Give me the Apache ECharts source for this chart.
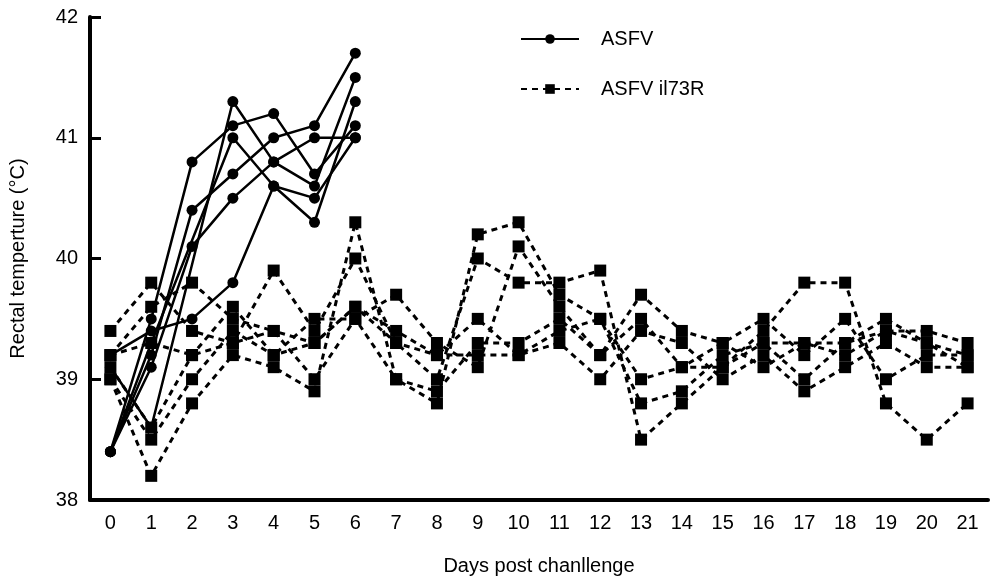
<!DOCTYPE html>
<html style="width:100%;height:100%">
<head>
    <meta charset="UTF-8">
    <title>Rectal temperature</title>
    <script type="text/javascript" src="https://cdn.jsdelivr.net/npm/echarts@6/dist/echarts.min.js"></script>
</head>
<body style="margin:0;width:100%;height:100%;overflow:hidden;background:#fff">
    <div id="main" style="width:1000px;height:588px"></div>

    <script type="text/javascript">
        var myChart = echarts.init(document.getElementById('main'));

        var days = ['0', '1', '2', '3', '4', '5', '6', '7', '8', '9', '10',
            '11', '12', '13', '14', '15', '16', '17', '18', '19', '20', '21'];
        var yTicks = [38, 39, 40, 41, 42];

        // ASFV (solid, circles) - days 0..6, null = no reading that day
        var asfv1 = [39.1, 38.6, null, 41.3, 40.8, 40.6, 41.5];
        var asfv2 = [39.2, 39.4, 39.5, 39.8, 40.6, 40.3, 41.3];
        var asfv3 = [38.4, 39.5, 40.8, 41.1, 41.2, 40.7, 41.1];
        var asfv4 = [38.4, 39.2, 40.4, 40.7, 41.0, 41.1, 41.7];
        var asfv5 = [38.4, 39.1, 40.1, 40.5, 40.8, 41.0, 41.0];
        var asfv6 = [38.4, 39.3, null, 41.0, 40.6, 40.5, 41.0];

        // ASFV il73R (dashed, squares) - days 0..21
        var mut1 = [39.4, 39.8, 39.4, 39.3, 39.9, 39.4, 40.0, 39.3, 39.0, 40.0, 39.8, 39.8, 39.9, 38.5, 38.8, 39.1, 39.4, 39.8, 39.8, 38.8, 38.5, 38.8];
        var mut2 = [39.0, 38.2, 38.8, 39.2, 39.1, 38.9, 40.3, 39.0, 38.8, 40.2, 40.3, 39.7, 39.5, 38.8, 38.9, 39.2, 39.3, 39.0, 39.3, 39.5, 39.3, 39.2];
        var mut3 = [39.2, 39.6, 39.8, 39.5, 39.4, 39.0, 39.5, 39.7, 39.3, 39.1, 40.1, 39.6, 39.2, 39.7, 39.4, 39.3, 39.1, 39.3, 39.2, 39.4, 39.4, 39.3];
        var mut4 = [39.0, 38.5, 39.0, 39.4, 39.2, 39.3, 39.6, 39.4, 39.2, 39.5, 39.2, 39.3, 39.0, 39.4, 39.3, 39.0, 39.2, 38.9, 39.1, 39.3, 39.1, 39.1];
        var mut5 = [39.1, 38.6, 39.2, 39.6, 39.2, 39.5, 39.5, 39.0, 38.9, 39.3, 39.3, 39.5, 39.2, 39.5, 39.1, 39.3, 39.5, 39.2, 39.5, 39.0, 39.2, 39.2];
        var mut6 = [39.2, 39.3, 39.2, 39.3, 39.4, 39.3, 39.6, 39.3, 39.2, 39.2, 39.2, 39.4, 39.5, 39.0, 39.1, 39.1, 39.3, 39.3, 39.3, 39.4, 39.3, 39.1];

        var fontMain = "'Liberation Sans', Arial, sans-serif";
        var fontNarrow = "'Liberation Sans Narrow', 'Liberation Sans', Arial, sans-serif";

        var series = [];
        [asfv1, asfv2, asfv3, asfv4, asfv5, asfv6].forEach(function (d) {
            series.push({
                name: 'ASFV',
                type: 'line',
                data: d,
                connectNulls: true,
                symbol: 'circle',
                symbolSize: 11,
                lineStyle: { color: '#000', width: 2.5, type: 'solid' },
                itemStyle: { color: '#000' },
                z: 3
            });
        });
        [mut1, mut2, mut3, mut4, mut5, mut6].forEach(function (d) {
            series.push({
                name: 'ASFV il73R',
                type: 'line',
                data: d,
                symbol: 'rect',
                symbolSize: 12,
                lineStyle: { color: '#000', width: 3, type: [6, 5] },
                itemStyle: { color: '#000' },
                z: 2
            });
        });

        option = {
            backgroundColor: '#fff',
            animation: false,
            grid: {
                left: 90,
                right: 12,
                top: 17,
                bottom: 88
            },
            legend: {
                orient: 'vertical',
                left: 515,
                top: 24,
                itemWidth: 58,
                itemHeight: 12,
                itemGap: 30,
                textStyle: { fontFamily: fontMain, fontSize: 20, color: '#000', padding: [0, 0, 0, 17] },
                data: ['ASFV', 'ASFV il73R']
            },
            xAxis: {
                type: 'category',
                data: days,
                boundaryGap: true,
                name: 'Days post chanllenge',
                nameLocation: 'middle',
                nameGap: 56,
                nameTextStyle: { fontFamily: fontMain, fontSize: 20, color: '#000' },
                axisLine: { lineStyle: { color: '#000', width: 4 } },
                axisTick: { alignWithLabel: true, inside: true, length: 10, lineStyle: { color: '#000', width: 3 } },
                axisLabel: { fontFamily: fontNarrow, fontSize: 20, color: '#000', margin: 13 },
                splitLine: { show: false }
            },
            yAxis: {
                type: 'value',
                min: yTicks[0],
                max: yTicks[yTicks.length - 1],
                interval: 1,
                name: 'Rectal temperture (°C)',
                nameLocation: 'middle',
                nameGap: 62,
                nameTextStyle: { fontFamily: fontMain, fontSize: 20, color: '#000' },
                axisLine: { show: true, lineStyle: { color: '#000', width: 4 } },
                axisTick: { show: true, inside: true, length: 11, lineStyle: { color: '#000', width: 3 } },
                axisLabel: { fontFamily: fontMain, fontSize: 20, color: '#000', margin: 12 },
                splitLine: { show: false }
            },
            series: series
        };

        myChart.setOption(option);
    </script>
</body>
</html>
